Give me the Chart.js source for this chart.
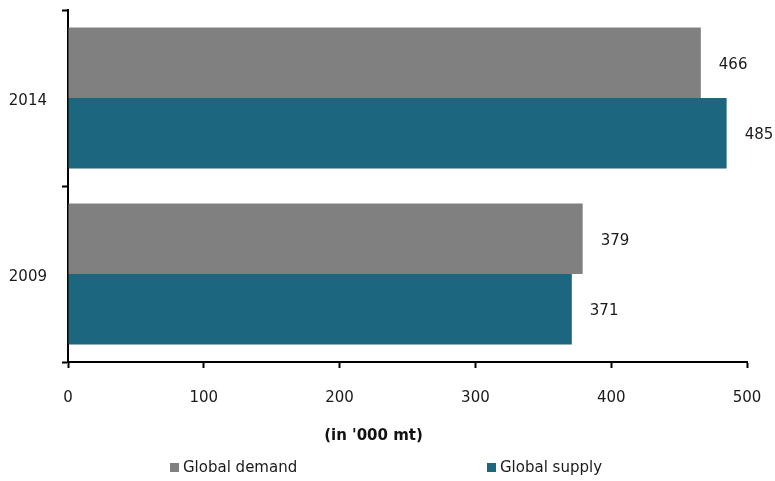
<!DOCTYPE html>
<html lang="en">
<head>
    <meta charset="UTF-8">
    <title>Global demand and supply</title>
    <script src="https://cdn.jsdelivr.net/npm/chart.js"></script>
    <style>
        body {
            margin: 0;
            background: #fff;
            font-family: "DejaVu Sans", sans-serif;
            color: #1a1a1a;
        }
        .wrap {
            position: relative;
            width: 775px;
            height: 481px;
        }
        .legend-item {
            position: absolute;
            top: 458px;
            display: flex;
            align-items: center;
            font-size: 15px;
            line-height: 18px;
            white-space: nowrap;
        }
        .legend-item .box {
            width: 9px;
            height: 9px;
            margin-right: 4px;
        }
    </style>
</head>
<body>
    <div class="wrap">
        <canvas id="chart"></canvas>
        <div class="legend-item" style="left:170px"><span class="box" style="background:#808080"></span>Global demand</div>
        <div class="legend-item" style="left:487px"><span class="box" style="background:#1c667f"></span>Global supply</div>
    </div>

    <script>
        const years = ['2014', '2009'];
        const demand = [466, 379];
        const supply = [485, 371];
        const xTicks = [0, 100, 200, 300, 400, 500];

        const grey = '#808080';
        const teal = '#1c667f';
        const font = { family: '"DejaVu Sans", sans-serif', size: 15 };

        // value text to the right of each bar
        const barValues = {
            id: 'barValues',
            afterDatasetsDraw(chart) {
                const ctx = chart.ctx;
                ctx.save();
                ctx.font = '15px "DejaVu Sans", sans-serif';
                ctx.fillStyle = '#1a1a1a';
                ctx.textAlign = 'left';
                ctx.textBaseline = 'middle';
                chart.data.datasets.forEach((ds, i) => {
                    chart.getDatasetMeta(i).data.forEach((bar, j) => {
                        ctx.fillText(ds.data[j], bar.x + 18, bar.y + 2);
                    });
                });
                ctx.restore();
            }
        };

        new Chart(document.getElementById('chart'), {
            type: 'bar',
            data: {
                labels: years,
                datasets: [
                    { label: 'Global demand', data: demand, backgroundColor: grey },
                    { label: 'Global supply', data: supply, backgroundColor: teal }
                ]
            },
            options: {
                indexAxis: 'y',
                responsive: true,
                maintainAspectRatio: false,
                animation: false,
                categoryPercentage: 0.8,
                barPercentage: 1.0,
                layout: { padding: { top: 10, right: 28, left: 0, bottom: 0 } },
                scales: {
                    x: {
                        min: 0,
                        max: 500,
                        afterBuildTicks: s => { s.ticks = xTicks.map(v => ({ value: v })); },
                        afterFit: s => {
                            s.height = 44;
                            s.paddingLeft = 0;
                            s.paddingRight = 0;
                        },
                        border: { color: '#000', width: 2 },
                        grid: {
                            drawOnChartArea: false,
                            tickLength: 6,
                            tickWidth: 2,
                            tickColor: '#000'
                        },
                        ticks: { color: '#1a1a1a', font: font, padding: 21, maxRotation: 0 }
                    },
                    y: {
                        afterFit: s => {
                            s.width = 68;
                            s.paddingTop = 0;
                            s.paddingBottom = 0;
                        },
                        border: { color: '#000', width: 2 },
                        grid: {
                            offset: true,
                            drawOnChartArea: false,
                            tickLength: 6,
                            tickWidth: 2,
                            tickColor: '#000'
                        },
                        ticks: { color: '#1a1a1a', font: font, padding: 15, labelOffset: 3 }
                    }
                },
                plugins: {
                    legend: { display: false },
                    tooltip: { enabled: false },
                    title: {
                        display: true,
                        position: 'bottom',
                        weight: 500,
                        text: "(in '000 mt)",
                        color: '#111',
                        font: { family: '"DejaVu Sans", sans-serif', size: 15, weight: 'bold' },
                        padding: { top: 21, bottom: 36 }
                    }
                }
            },
            plugins: [barValues]
        });
    </script>
</body>
</html>
